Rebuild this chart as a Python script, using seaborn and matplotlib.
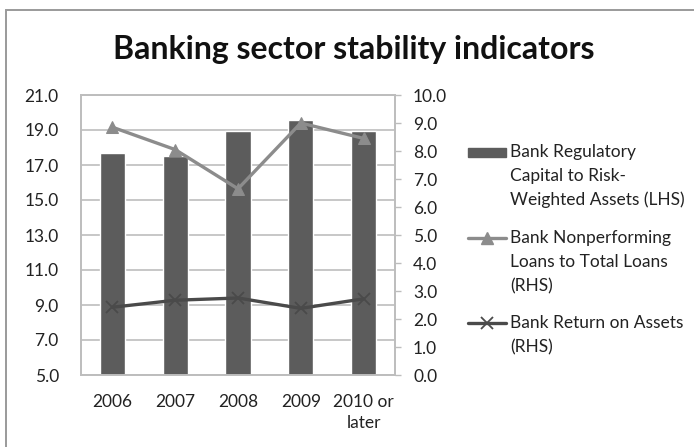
import matplotlib
matplotlib.use("Agg")
import matplotlib.pyplot as plt
import matplotlib.patches as mpatches
from matplotlib.lines import Line2D
from matplotlib.ticker import FormatStrFormatter, MultipleLocator
import numpy as np
import pandas as pd
import seaborn as sns

# Data
years = ["2006", "2007", "2008", "2009", "2010 or\nlater"]
capital_to_rwa = [17.7, 17.5, 18.95, 19.6, 18.95]      # LHS, %
npl_to_loans = [8.85, 8.05, 6.65, 9.0, 8.45]            # RHS, %
return_on_assets = [2.42, 2.67, 2.75, 2.38, 2.72]       # RHS, %
left_ticks = [5, 7, 9, 11, 13, 15, 17, 19, 21]

labels = [
    ["Bank Regulatory", "Capital to Risk-", "Weighted Assets (LHS)"],
    ["Bank Nonperforming", "Loans to Total Loans", "(RHS)"],
    ["Bank Return on Assets", "(RHS)"],
]

BAR_C = "#5c5c5c"
NPL_C = "#8c8c8c"
ROA_C = "#4a4a4a"
GRID_C = "#bdbdbd"
TXT_C = "#222222"
FONT = "Lato"
FS = 12.5

sns.set_style("white")
plt.rcParams["font.family"] = [FONT, "DejaVu Sans"]

df = pd.DataFrame({
    "year": years,
    "pos": np.arange(len(years)),
    "capital": capital_to_rwa,
    "npl": npl_to_loans,
    "roa": return_on_assets,
})

W, H = 694, 447
fig = plt.figure(figsize=(W / 100, H / 100), dpi=100)


def fx(px):
    return px / W


def fy(py):
    return 1 - py / H


# outer chart frame (top and left edges visible)
frame = mpatches.Rectangle((fx(6), -0.2), 2.0, 1.2 - 10 / H,
                           transform=fig.transFigure, fill=False,
                           edgecolor="#9a9a9a", linewidth=1.4, zorder=0)
fig.patches.append(frame)

ax = fig.add_axes([fx(81), (H - 375) / H, 314 / W, 280 / H])

sns.barplot(data=df, x="pos", y="capital", color=BAR_C, width=0.4,
            saturation=1, ax=ax, zorder=2)
ax.set_ylim(5, 21)
ax.set_xlim(-0.5, len(years) - 0.5)
ax.set_yticks(left_ticks)
ax.yaxis.set_major_formatter(FormatStrFormatter("%.1f"))
ax.set_xticks(np.arange(len(years)))
ax.set_xticklabels(years, fontsize=FS, color=TXT_C, linespacing=1.38)
ax.set_xlabel("")
ax.set_ylabel("")
ax.grid(axis="y", color=GRID_C, linewidth=1.2, zorder=0)
ax.set_axisbelow(True)
ax.tick_params(axis="y", length=0, pad=16, labelsize=FS, labelcolor=TXT_C)
ax.tick_params(axis="x", length=0, pad=14)
for s in ax.spines.values():
    s.set_color(GRID_C)
    s.set_linewidth(1.2)

ax2 = ax.twinx()
sns.lineplot(data=df, x="pos", y="npl", color=NPL_C, linewidth=2.4,
             marker="^", markersize=9, markeredgecolor=NPL_C, ax=ax2)
sns.lineplot(data=df, x="pos", y="roa", color=ROA_C, linewidth=2.4,
             marker="x", markersize=9, markeredgewidth=1.3,
             markeredgecolor=ROA_C, ax=ax2)
ax2.set_ylim(0, 10)
ax2.yaxis.set_major_locator(MultipleLocator(1))
ax2.yaxis.set_major_formatter(FormatStrFormatter("%.1f"))
ax2.set_ylabel("")
ax2.tick_params(axis="y", length=4, width=1, color=GRID_C, pad=9,
                labelsize=FS, labelcolor=TXT_C, direction="out")
for s in ax2.spines.values():
    s.set_color(GRID_C)
    s.set_linewidth(1.2)
ax.set_xlim(-0.5, len(years) - 0.5)

# Title
fig.text(fx(354), fy(59), "Banking sector stability indicators",
         ha="center", va="baseline", fontsize=23, fontweight="bold",
         color="#111111")

# Legend: key on the first line of each entry, wrapped labels below
entry_tops = [152, 238, 323]
line_step = 24
key_x0, key_x1, text_x = 468, 506, 510
for i, (top, lines) in enumerate(zip(entry_tops, labels)):
    if i == 0:
        fig.patches.append(mpatches.Rectangle(
            (fx(key_x0), fy(top + 4.5)), (key_x1 - key_x0) / W, 9 / H,
            transform=fig.transFigure, facecolor=BAR_C, edgecolor=BAR_C))
    elif i == 1:
        fig.lines.append(Line2D([fx(key_x0), fx(key_x1)], [fy(top), fy(top)],
                                transform=fig.transFigure, color=NPL_C,
                                linewidth=2.4))
        fig.lines.append(Line2D([fx((key_x0 + key_x1) / 2)], [fy(top)],
                                transform=fig.transFigure, color=NPL_C,
                                marker="^", markersize=8))
    else:
        fig.lines.append(Line2D([fx(key_x0), fx(key_x1)], [fy(top), fy(top)],
                                transform=fig.transFigure, color=ROA_C,
                                linewidth=2.4))
        fig.lines.append(Line2D([fx((key_x0 + key_x1) / 2)], [fy(top)],
                                transform=fig.transFigure, color=ROA_C,
                                marker="x", markersize=9, markeredgewidth=1.3))
    for j, line in enumerate(lines):
        fig.text(fx(text_x), fy(top + j * line_step), line, ha="left",
                 va="center", fontsize=FS, color=TXT_C)

fig.savefig("out.png", dpi=100)
